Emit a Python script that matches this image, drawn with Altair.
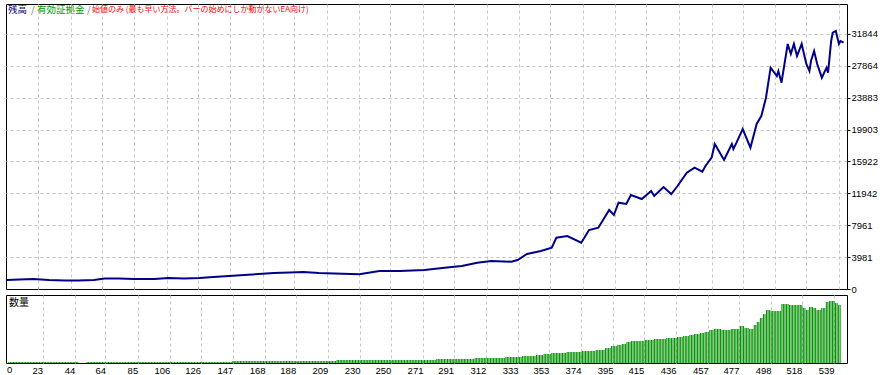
import altair as alt
import pandas as pd

# ---- balance curve (trade number, balance) ----
trade = [3, 11, 20, 30, 40, 49, 59, 66, 75, 85, 98, 107, 117, 127, 136, 146, 156, 165, 175,
         185, 194, 204, 214, 230, 243, 256, 272, 285, 296, 306, 315, 328, 332, 338, 347, 354,
         357, 364, 373, 378, 384, 391, 394, 397, 402, 405, 412, 418, 420, 426, 431, 435, 441,
         446, 451, 453, 457, 459, 465, 470, 471, 473, 477, 482, 486, 489, 492, 495, 499, 500,
         502, 506, 508, 510, 512, 515, 518, 520, 521, 523, 525, 528, 531, 532, 534, 535, 537,
         539, 540, 542]
balance = [1124, 1186, 1249, 1124, 1061, 1061, 1124, 1311, 1311, 1249, 1249, 1374, 1311, 1374,
           1499, 1623, 1748, 1873, 1998, 2060, 2123, 1998, 1936, 1836, 2248, 2248, 2373, 2660,
           2872, 3284, 3497, 3409, 3622, 4371, 4745, 5157, 6406, 6619, 5782, 7368, 7655, 9866,
           9241, 10777, 10615, 11739, 11239, 12238, 11614, 12738, 11864, 12863, 14523, 15148,
           14648, 15360, 16397, 18108, 16110, 18108, 17483, 18270, 19981, 17645, 20605, 21604,
           23890, 27636, 26599, 27224, 25762, 30596, 29347, 30596, 29097, 30596, 28098, 27224,
           28473, 29721, 28098, 26387, 27636, 27012, 30970, 32007, 32219, 30596, 30970, 30758]

# ---- volume (lots): trade number where the lot size changes, and the new lot size ----
vol_start = [1, 47, 52, 147, 215, 280, 305, 325, 336, 345, 350, 355, 365, 375, 384, 390, 394,
             398, 401, 404, 407, 416, 422, 430, 437, 441, 445, 448, 452, 455, 458, 461, 466,
             472, 478, 481, 484, 487, 489, 491, 493, 495, 498, 505, 510, 519, 521, 523, 526,
             528, 531, 534, 536, 540, 542]
vol_lots = [0.01, 0.0, 0.01, 0.02, 0.03, 0.04, 0.05, 0.06, 0.07, 0.08, 0.09, 0.10, 0.11, 0.12,
            0.13, 0.15, 0.17, 0.18, 0.19, 0.21, 0.22, 0.23, 0.24, 0.25, 0.26, 0.27, 0.28, 0.29,
            0.30, 0.31, 0.33, 0.34, 0.33, 0.34, 0.37, 0.35, 0.34, 0.38, 0.41, 0.45, 0.49, 0.53,
            0.52, 0.59, 0.58, 0.55, 0.53, 0.56, 0.55, 0.53, 0.55, 0.61, 0.62, 0.60, 0.58]
last_trade = 543

# ---- axis ticks ----
x_ticks = [2.4, 23, 44, 64, 85, 106, 126, 147, 168, 188, 209, 230, 250, 271, 291, 312, 333,
           353, 374, 395, 415, 436, 457, 477, 498, 518, 539]
first_x_label = "0"
y_step = 3980.5
y_ticks = [k * y_step for k in range(9)]

# ---- texts ----
title_parts = ["残高", "/", "有効証拠金", "/", "始値のみ (最も早い方法。バーの始めにしか動かないEA向け)"]
title_x = [2, 25, 31, 81, 86]
title_size = [9.5, 9.5, 9.5, 9.5, 8]
title_colors = ["#000080", "#707070", "#009900", "#707070", "#ff0000"]
vol_label = "数量"

bal_df = pd.DataFrame({"trade": trade, "balance": balance})

rows = []
j = 0
for t in range(1, last_trade + 1):
    while j + 1 < len(vol_start) and vol_start[j + 1] <= t:
        j += 1
    if vol_lots[j] > 0:
        rows.append({"trade": t, "lots": vol_lots[j]})
vol_df = pd.DataFrame(rows)

W = 841
H_TOP = 285
H_BOT = 68
x_scale = alt.Scale(domain=[2.4, 544.2], nice=False, zero=False)
grid_color = "#c4c4c4"
grid_dash = [3, 3]
x_grid_op = {"condition": {"test": "datum.value < 5", "value": 0}, "value": 1}
y_grid_op = {"condition": {"test": "datum.value < 1", "value": 0}, "value": 1}

top_line = alt.Chart(bal_df).mark_line(color="#000088", strokeWidth=2).encode(
    x=alt.X("trade:Q", scale=x_scale,
            axis=alt.Axis(values=x_ticks, labels=False, ticks=False, domain=False, grid=True,
                          gridColor=grid_color, gridDash=grid_dash, gridOpacity=x_grid_op,
                          title=None)),
    y=alt.Y("balance:Q", scale=alt.Scale(domain=[0, 35590], nice=False, zero=True),
            axis=alt.Axis(orient="right", values=y_ticks, format="d", grid=True,
                          gridColor=grid_color, gridDash=grid_dash, gridOpacity=y_grid_op,
                          tickSize=3, tickColor="black", domain=False, labelPadding=1,
                          title=None, labelOverlap=False, labelFlush=False)),
)

title_layers = []
for txt, xx, fs, col in zip(title_parts, title_x, title_size, title_colors):
    title_layers.append(
        alt.Chart(pd.DataFrame({"t": [txt]})).mark_text(
            align="left", baseline="middle", font="Noto Sans CJK JP", fontSize=fs, color=col
        ).encode(x=alt.value(xx), y=alt.value(6), text="t:N")
    )

top = alt.layer(top_line, *title_layers).properties(width=W, height=H_TOP)

vol_bars = alt.Chart(vol_df).mark_bar(size=1.1, color="#089408").encode(
    x=alt.X("trade:Q", scale=x_scale,
            axis=alt.Axis(values=x_ticks, grid=True, gridColor=grid_color, gridDash=grid_dash,
                          gridOpacity=x_grid_op, ticks=False, domain=False, title=None,
                          labelFlush=False, labelOverlap=False, labelPadding=2,
                          labelAlign="right", labelBaseline="top",
                          labelExpr="datum.value < 5 ? '' : format(datum.value, 'd')")),
    y=alt.Y("lots:Q", scale=alt.Scale(domain=[0, 0.68], nice=False), axis=None),
)
vol_text = alt.Chart(pd.DataFrame({"t": [vol_label]})).mark_text(
    align="left", baseline="middle", font="Noto Sans CJK JP", fontSize=10, color="black"
).encode(x=alt.value(3), y=alt.value(8), text="t:N")
zero_text = alt.Chart(pd.DataFrame({"t": [first_x_label]})).mark_text(
    align="left", baseline="top", font="Liberation Sans", fontSize=9.5, color="black"
).encode(x=alt.value(1), y=alt.value(H_BOT + 2), text="t:N")

bottom = alt.layer(vol_bars, vol_text, zero_text).properties(width=W, height=H_BOT)

chart = alt.vconcat(top, bottom, spacing=0).properties(
    padding={"left": 2, "top": 3, "right": 0, "bottom": 0},
    background="white",
).configure_view(stroke="black", strokeWidth=1).configure_axis(
    labelFont="Liberation Sans", labelFontSize=9.5, labelColor="black"
)

chart.save("out.html", embed_options={"renderer": "svg", "actions": False})
